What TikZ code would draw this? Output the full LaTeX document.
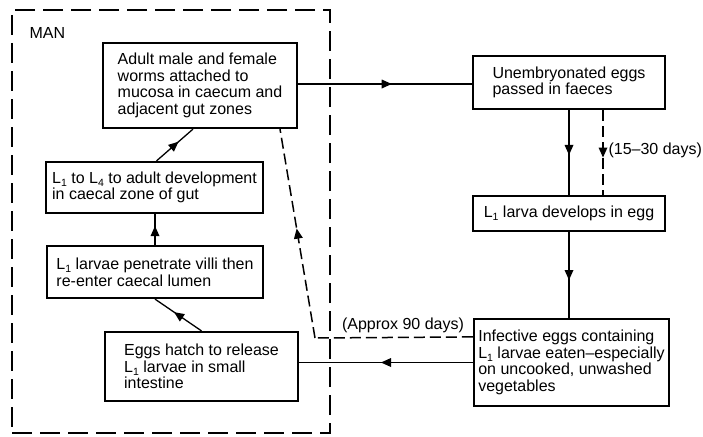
\documentclass[tikz,border=0pt]{standalone}
\usepackage{fontspec}
\setmainfont{Liberation Sans}
\usetikzlibrary{arrows.meta,decorations.markings,calc}
\newcommand\Lx[1]{L\raisebox{-0.35ex}{\fontsize{10.5}{10.5}\selectfont #1}}
\begin{document}
\begin{tikzpicture}[x=1pt,y=-1pt,
  every node/.style={font=\fontsize{16}{16.7}\selectfont},
  box/.style={draw,line width=2.2pt,align=left,inner sep=0pt},
  conn/.style={line width=1.3pt},
  midarr/.style={postaction={decorate},decoration={markings,mark=at position #1 with {\fill[solid] (5,0) -- (-5,-4.5) -- (-5,4.5) -- cycle;}}},
  midarr/.default=0.5,
  dline/.style={line width=1.5pt,dash pattern=on 11pt off 5pt},
  manbox/.style={draw,line width=1.6pt,dash pattern=on 20pt off 8pt,minimum width=318pt,minimum height=423pt,inner sep=0pt}
]
\useasboundingbox (0,0) rectangle (703,436);
\node[manbox] (man) at (171,221.5) {};
\node[anchor=west] (manlbl) at (26,33) {MAN};

\node[box,minimum width=194pt,minimum height=85pt] (A) at (200,85.5)
  {Adult male and female\\worms attached to\\mucosa in caecum and\\adjacent gut zones};
\node[box,minimum width=217pt,minimum height=51pt] (B) at (154.5,187.5)
  {\Lx1 to \Lx4 to adult development\\in caecal zone of gut};
\node[box,minimum width=216pt,minimum height=52pt] (C) at (155,272)
  {\Lx1 larvae penetrate villi then\\re-enter caecal lumen};
\node[box,minimum width=193pt,minimum height=69pt] (D) at (201.5,366.5)
  {Eggs hatch to release\\\Lx1 larvae in small\\intestine};
\node[box,minimum width=192pt,minimum height=53pt] (E) at (569,82.5)
  {Unembryonated eggs\\passed in faeces};
\node[box,minimum width=192pt,minimum height=35pt] (F) at (569,213.5)
  {\Lx1 larva develops in egg};
\node[box,minimum width=195pt,minimum height=87pt] (G) at (571.5,362.5)
  {Infective eggs containing\\\Lx1 larvae eaten–especially\\on uncooked, unwashed\\vegetables};

% solid connectors
\draw[conn,midarr=0.51] (A.east |- 0,84) coordinate (ae) -- (ae -| E.west);
\draw[conn,midarr=0.47] (E.south) -- (F.north);
\draw[conn,midarr] (F.south) -- (F.south |- G.north);
\draw[conn,midarr] (G.west) -- (G.west -| D.east);
\draw[conn,midarr] (D.north) -- (C.south);
\draw[conn,midarr=0.45] (C.north) -- (C.north |- B.south);
\coordinate (atgt) at ($(A.south)+(-7,0)$);
\draw[conn,midarr] ($(B.north)+(2,0)$) coordinate (bsrc) -- (atgt);

% dashed connectors
\coordinate (ef1) at ($(E.south)+(34,0)$);
\draw[dline,midarr] (ef1) -- (ef1 |- F.north);
\node[anchor=west] (days1) at (605,150) {(15–30 days)};

\coordinate (gd) at ($(G.north west)+(0,19)$);
\coordinate (corner) at (315,338);
\coordinate (adash) at ($(A.south)+(80,0)$);
\draw[dline] (gd) -- (corner);
\draw[dline,midarr] (corner) -- (adash);
\node (days2) at (403,325) {(Approx 90 days)};
\end{tikzpicture}
\end{document}
